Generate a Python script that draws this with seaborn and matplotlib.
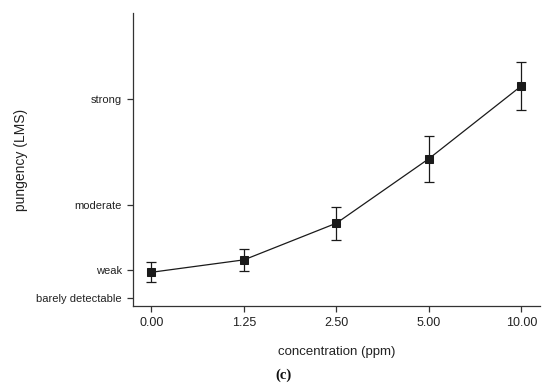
import numpy as np
import pandas as pd
import matplotlib
matplotlib.use("Agg")
import matplotlib.pyplot as plt
import seaborn as sns

# concentration levels (categorical, equally spaced on the axis)
concentrations = ["0.00", "1.25", "2.50", "5.00", "10.00"]
# mean pungency ratings on the LMS scale and their error bars
pungency = [5.7, 7.8, 14.0, 24.9, 37.2]
pungency_err = [1.7, 1.9, 2.8, 3.9, 4.05]

# LMS descriptor positions
lms_values = [1.4, 6, 17, 35]
lms_labels = ["barely detectable", "weak", "moderate", "strong"]

sns.set_style("ticks")
plt.rcParams['font.family'] = ['Liberation Sans', 'DejaVu Sans']

df = pd.DataFrame({"idx": np.arange(len(concentrations)),
                   "conc": concentrations,
                   "pungency": pungency,
                   "err": pungency_err})

fig = plt.figure(figsize=(5.5, 3.88), dpi=100)
ax = fig.add_axes([0.2418, 0.2113, 0.74, 0.7552])

ink = "#1a1a1a"
ax.errorbar(df["idx"], df["pungency"], yerr=df["err"], fmt="none",
            ecolor=ink, elinewidth=0.9, capsize=3.3, capthick=0.9, zorder=2)
sns.lineplot(data=df, x="idx", y="pungency", ax=ax, color=ink,
             linewidth=0.9, marker="s", markersize=5.8, markeredgecolor=ink,
             markerfacecolor=ink, zorder=3)

ax.set_xlim(-0.2, len(concentrations) - 0.8)
ax.set_ylim(0, 49.5)
ax.set_xticks(df["idx"])
ax.set_xticklabels(concentrations)
ax.set_yticks(lms_values)
ax.set_yticklabels(lms_labels)

sns.despine(ax=ax)
for side in ["left", "bottom"]:
    ax.spines[side].set_linewidth(0.9)
    ax.spines[side].set_color("#333333")
ax.tick_params(axis="both", length=4, width=0.9, colors="#333333",
               labelcolor="#222222", pad=4)
ax.tick_params(axis="y", labelsize=8)
ax.tick_params(axis="x", labelsize=9)

ax.set_xlabel("concentration (ppm)", fontsize=9.5, color="#222222", labelpad=12)
ax.set_ylabel("pungency (LMS)", fontsize=10, color="#222222")
ax.yaxis.set_label_coords(-0.258, 0.5)

fig.text(284 / 550, 1 - 375 / 388, "(c)", ha="center", va="center",
         fontsize=10.5, family=["Liberation Serif", "DejaVu Serif"],
         fontweight="bold", color="#111111")

fig.savefig("out.png", dpi=100)
